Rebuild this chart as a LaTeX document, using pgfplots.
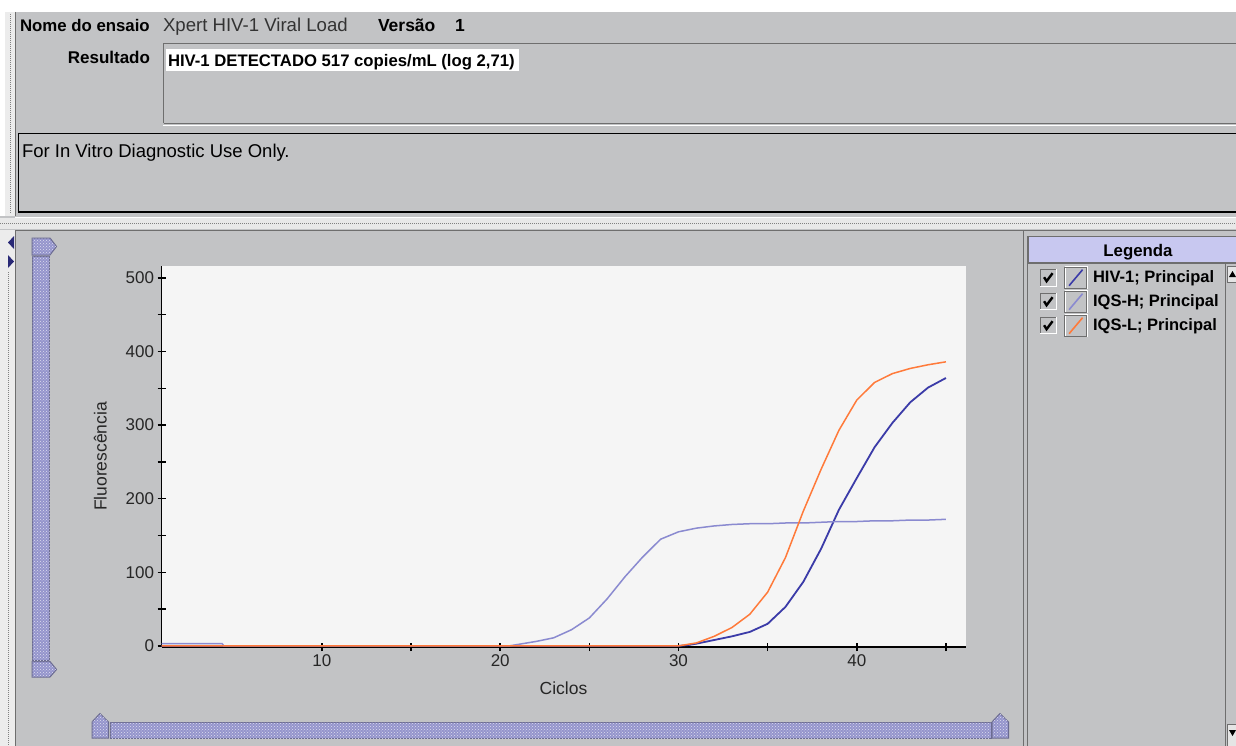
\documentclass[border=0pt]{standalone}
\usepackage{pgfplots}
\pgfplotsset{compat=1.18}
\usepackage{fontspec}
\setmainfont{Liberation Sans}
\usetikzlibrary{patterns}
\definecolor{panel}{HTML}{C2C3C5}
\definecolor{plotbg}{HTML}{F5F5F5}
\definecolor{scroll}{HTML}{9494CC}
\definecolor{scrollb}{HTML}{6A6A90}
\definecolor{lav}{HTML}{C8C8F0}
\definecolor{hivc}{HTML}{3B3BA8}
\definecolor{iqshc}{HTML}{8A8AD0}
\definecolor{iqslc}{HTML}{FF7A3A}
\definecolor{dkg}{HTML}{6E6E6E}
\newcommand\fs[1]{\fontsize{#1}{#1}\selectfont}
\begin{document}
\begin{tikzpicture}
\begin{scope}[x=1pt,y=-1pt, lbl/.style={inner sep=0pt, outer sep=0pt}]
\useasboundingbox (0,0) rectangle (1236,746);
\fill[panel] (0,0) rectangle (1236,746);
\fill[white] (0,0) rectangle (1236,12);
% left strip upper
\fill[white] (0,12) rectangle (5,216);
\fill[gray!15] (5,12) rectangle (15,216);
\draw[gray, densely dotted, line width=1pt] (10,14) -- (10,214);
\draw[dkg, line width=1pt] (15.5,12) -- (15.5,216);
% header texts
\node[lbl, anchor=base west, font=\bfseries\fs{16.8}] at (20,32) {Nome do ensaio};
\node[lbl, anchor=base west, font=\fs{18.6}, text=black!80] at (163,32) {Xpert HIV-1 Viral Load};
\node[lbl, anchor=base west, font=\bfseries\fs{17.5}] at (378,32) {Versão};
\node[lbl, anchor=base west, font=\bfseries\fs{17.5}] at (455,32) {1};
\node[lbl, anchor=base east, font=\bfseries\fs{17}] at (150,63.3) {Resultado};
% result box
\draw[dkg, line width=1.5pt] (163.5,123.5) -- (163.5,43.5) -- (1236,43.5);
\draw[dkg, line width=1.2pt] (163.5,123.5) -- (1236,123.5);
\draw[white, line width=1pt] (163,125.8) -- (1236,125.8);
\fill[white] (166,49.5) rectangle (519,71);
\node[lbl, anchor=base west, font=\bfseries\fs{16.7}] at (168,66.7) {HIV-1 DETECTADO 517 copies/mL (log 2,71)};
% second box
\draw[black, line width=1.6pt] (1240,133.5) -- (18.5,133.5) -- (18.5,212) -- (1240,212);
\draw[white, line width=1pt] (15,217) -- (1236,217);
\node[lbl, anchor=base west, font=\fs{18.5}] at (22,158) {For In Vitro Diagnostic Use Only.};
% separator
\fill[gray!18] (0,218) rectangle (1236,229);
\draw[gray, densely dotted, line width=1pt] (0,223.5) -- (1236,223.5);
\draw[dkg, line width=1pt] (15,230.5) -- (1236,230.5);
% lower left strip
\fill[gray!15] (0,230) rectangle (15,746);
\draw[gray, densely dotted, line width=1pt] (8,272) -- (8,746);
\draw[dkg, line width=1pt] (15.5,230) -- (15.5,746);
\fill[hivc!70!black] (14,236) -- (14,249) -- (8,242.5) -- cycle;
\fill[hivc!70!black] (8,255) -- (8,268) -- (14,261.5) -- cycle;
% vertical scrollbar
\filldraw[fill=scroll, draw=scrollb, line width=1pt, postaction={pattern=crosshatch dots, pattern color=white!70!scroll}] (32,256.5) rectangle (49.5,660);
\filldraw[fill=scroll, draw=scrollb, line width=1pt, postaction={pattern=crosshatch dots, pattern color=white!70!scroll}] (32,238) -- (50,238) -- (56.5,246.5) -- (50,255) -- (32,255) -- cycle;
\filldraw[fill=scroll, draw=scrollb, line width=1pt, postaction={pattern=crosshatch dots, pattern color=white!70!scroll}] (32,661.5) -- (50,661.5) -- (56.5,669.5) -- (50,677) -- (32,677) -- cycle;
% horizontal scrollbar
\filldraw[fill=scroll, draw=scrollb, line width=1pt, postaction={pattern=crosshatch dots, pattern color=white!70!scroll}] (110,722.5) rectangle (991,738);
\filldraw[fill=scroll, draw=scrollb, line width=1pt, postaction={pattern=crosshatch dots, pattern color=white!70!scroll}] (92,722) -- (100,713.5) -- (108.5,722) -- (108.5,738) -- (92,738) -- cycle;
\filldraw[fill=scroll, draw=scrollb, line width=1pt, postaction={pattern=crosshatch dots, pattern color=white!70!scroll}] (992,722) -- (1000,713.5) -- (1008.5,722) -- (1008.5,738) -- (992,738) -- cycle;
% right panel
\draw[dkg, line width=1pt] (1023.5,230) -- (1023.5,746);
\draw[dkg, line width=1pt] (1027.5,236) -- (1027.5,746);
\filldraw[fill=lav, draw=dkg, line width=0.8pt] (1028,236.5) rectangle (1240,262);
\node[lbl, anchor=base, font=\bfseries\fs{16.8}] at (1138,256.5) {Legenda};
\draw[dkg, line width=1.2pt] (1028,263.5) -- (1236,263.5);
\draw[dkg, line width=1pt] (1225.5,264) -- (1225.5,746);
\filldraw[fill=gray!20, draw=dkg, line width=0.6pt] (1227,266) rectangle (1240,282);
\fill[black] (1229,277) -- (1236,277) -- (1232.5,271) -- cycle;
\filldraw[fill=gray!20, draw=dkg, line width=0.6pt] (1227,724) rectangle (1240,746);
\fill[black] (1229,730) -- (1236,730) -- (1232.5,736) -- cycle;
\end{scope}
\begin{axis}[
  at={(161.5pt,-647pt)}, anchor=south west,
  scale only axis, width=804pt, height=381pt,
  xmin=1, xmax=46.1, ymin=-1.5, ymax=516.2,
  axis x line*=bottom, axis y line*=left,
  axis line style={black, line width=1.6pt, -},
  axis background/.style={fill=plotbg},
  xtick={10,20,30,40}, minor xtick={15,25,35,45},
  ytick={0,100,...,500}, minor ytick={50,150,...,450},
  tick align=center, major tick length=8pt, minor tick length=8pt,
  major tick style={black, line width=1.5pt},
  minor tick style={black, line width=1.5pt},
  tick label style={font=\fs{17}, text=black!85},
  /pgf/number format/assume math mode=true,
  xlabel={Ciclos}, ylabel={Fluorescência},
  label style={font=\fs{17.5}, text=black!85},
  xlabel style={at={(axis description cs:0.5,-0.108)}, anchor=center},
  ylabel style={at={(axis description cs:-0.076,0.5)}, anchor=center},
  clip=false,
  legend style={at={(axis description cs:1.0920,1.0)}, anchor=north west,
    draw=none, fill=none, inner sep=0pt, font=\bfseries\fs{16.5},
    row sep=1pt},
  legend cell align=left,
  legend image code/.code={
    \fill[white] (0pt,-8pt) rectangle (16pt,8pt);
    \fill[dkg] (0pt,-7pt) rectangle (15pt,8pt);
    \fill[panel] (1.2pt,-7pt) rectangle (15pt,6.8pt);
    \draw[black, line width=2.4pt] (3.5pt,0.5pt) -- (6pt,-3.5pt) -- (12pt,4.5pt);
    \draw[white, line width=1pt] (24.5pt,-11pt) rectangle (47pt,11pt);
    \draw[dkg, line width=0.8pt] (24pt,-10.5pt) rectangle (46pt,10.5pt);
    \draw[#1, line width=1.6pt] (28.5pt,-8pt) -- (42pt,8pt);
  },
]
\addplot[hivc, line width=1.8pt] coordinates {
(1,0) (30,0) (30.5,1) (31,3) (32,8) (33,13) (34,19) (35,30) (36,53) (37,87) (38,132) (39,185) (40,228) (41,270) (42,303) (43,331) (44,351) (45,364)};
\addlegendentry{\hspace{3pt}HIV-1; Principal}
\addplot[iqshc, line width=1.5pt] coordinates {
(1,3) (4.4,3) (4.5,0) (20.5,0) (21,2) (22,6) (23,11) (24,22) (25,38) (26,64) (27,94) (28,121) (29,145) (30,155) (31,160) (32,163) (33,165) (34,166) (35,166) (36,167) (37,167) (38,168) (39,169) (40,169) (41,170) (42,170) (43,171) (44,171) (45,172)};
\addlegendentry{\hspace{3pt}IQS-H; Principal}
\addplot[iqslc, line width=1.5pt] coordinates {
(1,0) (30,0) (31,4) (32,13) (33,25) (34,43) (35,73) (36,120) (37,183) (38,240) (39,293) (40,334) (41,358) (42,370) (43,377) (44,382) (45,386)};
\addlegendentry{\hspace{3pt}IQS-L; Principal}
\end{axis}
\end{tikzpicture}
\end{document}
